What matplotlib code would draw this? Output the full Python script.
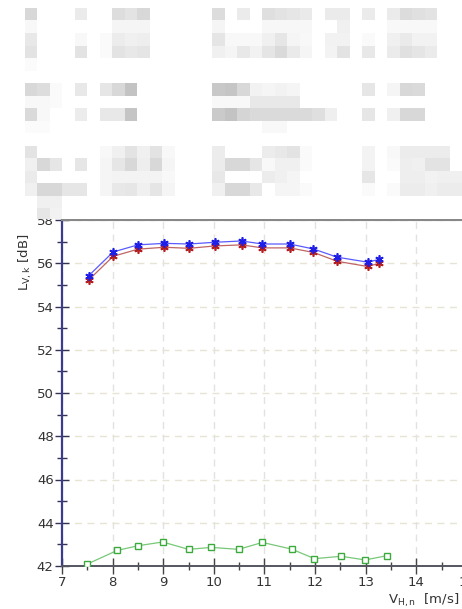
import numpy as np
import matplotlib
matplotlib.use("Agg")
from matplotlib import pyplot as plt

# wind speed bins [m/s] and levels [dB]
x_top = [7.53, 8.01, 8.5, 9.02, 9.51, 10.02, 10.55, 10.96, 11.5, 11.97, 12.44, 13.04, 13.27]
blue_vals = [55.43, 56.52, 56.85, 56.92, 56.89, 56.97, 57.03, 56.89, 56.89, 56.66, 56.28, 56.05, 56.18]
red_vals = [55.23, 56.32, 56.65, 56.74, 56.69, 56.80, 56.85, 56.71, 56.71, 56.50, 56.09, 55.85, 56.00]

x_bg = [7.5, 8.09, 8.51, 8.99, 9.5, 9.95, 10.49, 10.96, 11.54, 11.99, 12.52, 12.99, 13.43]
green_vals = [42.09, 42.72, 42.94, 43.11, 42.77, 42.86, 42.77, 43.09, 42.78, 42.34, 42.45, 42.28, 42.48]

x_ticks = [7, 8, 9, 10, 11, 12, 13, 14, 15]
y_ticks = [42, 44, 46, 48, 50, 52, 54, 56, 58]

# blurred header: row -> {column: grey level}
header = {
    0: {2: 0xD8, 6: 0xEB, 9: 0xDD, 10: 0xE3, 11: 0xD8, 17: 0xDC, 19: 0xEB, 21: 0xDF, 22: 0xE3,
        23: 0xE6, 24: 0xEA, 26: 0xEB, 27: 0xEB, 29: 0xEB, 31: 0xEB, 32: 0xDC, 33: 0xE0, 34: 0xE3},
    1: {2: 0xF8, 9: 0xF5, 10: 0xF5, 11: 0xF5, 17: 0xF5, 21: 0xF7, 22: 0xF7, 23: 0xF7, 24: 0xF7,
        27: 0xF0, 31: 0xF8, 32: 0xF8, 33: 0xF8, 34: 0xF8},
    2: {2: 0xE8, 6: 0xF8, 8: 0xFA, 9: 0xEC, 10: 0xF0, 11: 0xEE, 17: 0xE5, 18: 0xF8, 19: 0xF8,
        20: 0xF8, 21: 0xF0, 22: 0xE6, 23: 0xF5, 24: 0xF8, 26: 0xF2, 27: 0xF2, 29: 0xFA, 31: 0xF0,
        32: 0xEA, 33: 0xF2, 34: 0xF2},
    3: {2: 0xE3, 6: 0xE3, 8: 0xFA, 9: 0xE3, 10: 0xE8, 11: 0xE5, 17: 0xF0, 18: 0xF5, 19: 0xE8,
        20: 0xF2, 21: 0xE5, 22: 0xDA, 23: 0xEA, 24: 0xF5, 26: 0xF3, 27: 0xE3, 29: 0xE8, 31: 0xEB,
        32: 0xE0, 33: 0xE5, 34: 0xEB},
    4: {2: 0xFB},
    6: {2: 0xD8, 3: 0xDD, 4: 0xFA, 6: 0xE8, 8: 0xE6, 9: 0xD8, 10: 0xC3, 17: 0xC8, 18: 0xC5,
        19: 0xD8, 20: 0xF2, 21: 0xF5, 22: 0xF2, 23: 0xF5, 29: 0xE6, 31: 0xF5, 32: 0xD8, 33: 0xDA},
    7: {2: 0xF8, 3: 0xF8, 4: 0xFA, 17: 0xF8, 18: 0xF8, 19: 0xF8, 20: 0xE8, 21: 0xE8, 22: 0xE8,
        23: 0xE8},
    8: {2: 0xDA, 3: 0xF8, 6: 0xEC, 8: 0xE8, 9: 0xE8, 10: 0xC5, 17: 0xCA, 18: 0xC3, 19: 0xD5,
        20: 0xDA, 21: 0xDA, 22: 0xDA, 23: 0xDA, 24: 0xDA, 25: 0xDF, 26: 0xEF, 29: 0xE6, 31: 0xF0,
        32: 0xD8, 33: 0xD8},
    9: {2: 0xFB, 3: 0xFB, 21: 0xF8, 22: 0xF8},
    11: {2: 0xE3, 8: 0xF8, 9: 0xF0, 10: 0xE3, 11: 0xF0, 12: 0xE3, 13: 0xF8, 17: 0xEC, 21: 0xEC,
         22: 0xE8, 23: 0xE3, 24: 0xFA, 29: 0xF3, 31: 0xF8, 32: 0xEC, 33: 0xEC, 34: 0xEC, 35: 0xEC},
    12: {2: 0xF0, 3: 0xD8, 4: 0xE6, 6: 0xE6, 8: 0xF5, 9: 0xE6, 10: 0xD8, 11: 0xEE, 12: 0xD8,
         13: 0xF5, 17: 0xEC, 18: 0xD8, 19: 0xD8, 20: 0xE6, 21: 0xF8, 22: 0xF0, 23: 0xF0, 24: 0xFA,
         29: 0xF3, 31: 0xFA, 32: 0xEE, 33: 0xF0, 34: 0xE3, 35: 0xE3},
    13: {2: 0xEB, 8: 0xF5, 9: 0xF3, 10: 0xF3, 11: 0xF3, 12: 0xF3, 13: 0xF8, 17: 0xE8, 21: 0xEC,
         22: 0xF0, 23: 0xF5, 29: 0xE6, 32: 0xEE, 33: 0xEE, 34: 0xF2, 35: 0xF0, 36: 0xF0},
    14: {2: 0xF0, 3: 0xD8, 4: 0xD8, 5: 0xE6, 6: 0xE6, 8: 0xF5, 9: 0xE8, 10: 0xE6, 11: 0xF0,
         12: 0xE5, 13: 0xF5, 17: 0xF0, 18: 0xD8, 19: 0xD8, 20: 0xE8, 22: 0xF5, 23: 0xF5, 24: 0xFA,
         29: 0xFA, 31: 0xFA, 32: 0xEC, 33: 0xEC, 34: 0xF0, 35: 0xEC, 36: 0xEC},
    15: {3: 0xF0, 4: 0xF0},
    16: {3: 0xE6, 4: 0xF2},
}

plt.rcParams['font.family'] = ['DejaVu Sans']
plt.rcParams['mathtext.fontset'] = 'dejavusans'

W, H = 462, 609
fig = plt.figure(figsize=(W / 100, H / 100), dpi=100)

# chart axes, runs off the right edge like the original
left_px, top_px, bottom_px = 62, 220, 566
px_per_unit = 50.6
ax = fig.add_axes([left_px / W, (H - bottom_px) / H, 9 * px_per_unit / W, (bottom_px - top_px) / H])
ax.set_xlim(7, 16)
ax.set_ylim(42, 58)

ax.plot(x_top, blue_vals, color='#5a5aff', lw=0.9, marker=(6, 2, 0), ms=6,
        mec='#1e1ee6', mew=1.2, zorder=4)
ax.plot(x_top, red_vals, color='#c06464', lw=0.9, marker=(6, 2, 0), ms=6,
        mec='#b41e1e', mew=1.2, zorder=3)
ax.plot(x_bg, green_vals, color='#78c878', lw=0.9, marker='s', ms=4.5,
        mfc='white', mec='#3caa3c', mew=1.0, zorder=3)

ax.set_xticks(x_ticks)
ax.set_yticks(y_ticks)
ax.set_xticks(np.arange(7.5, 16, 1.0), minor=True)
ax.set_yticks(np.arange(43, 58, 2), minor=True)
ax.grid(True, which='major', axis='x', color='#e2e2e2', ls=(0, (5, 4)), lw=1.0)
ax.grid(True, which='major', axis='y', color='#e6e4d4', ls=(0, (5, 4)), lw=1.0)

ax.tick_params(axis='both', which='major', labelsize=9.5, labelcolor='#333333', direction='inout')
ax.tick_params(axis='x', which='major', length=12, width=1.0, color='#444444', pad=1)
ax.tick_params(axis='x', which='minor', length=6, width=1.0, color='#444444', direction='inout')
ax.tick_params(axis='y', which='major', length=10, width=1.0, color='#333355', pad=1)
ax.tick_params(axis='y', which='minor', length=7, width=1.0, color='#333355', direction='inout')

ax.spines['left'].set_color('#3c3c8c')
ax.spines['left'].set_linewidth(1.6)
ax.spines['bottom'].set_color('#555560')
ax.spines['bottom'].set_linewidth(1.4)
ax.spines['top'].set_color('#888888')
ax.spines['top'].set_linewidth(1.5)
ax.spines['right'].set_visible(False)

fig.text(25 / W, 1 - 262 / H, r'L$_{\mathrm{V,k}}$ [dB]', rotation=90, ha='center', va='center',
         fontsize=9.5, color='#333333')
fig.text(388 / W, 1 - 600 / H, r'V$_{\mathrm{H,n}}$  [m/s]', ha='left', va='center',
         fontsize=9.5, color='#333333')

# blurred header block painted over the top of the chart
cell = 12.5
y0 = 8.33
n_rows, n_cols = 17, 37
grid = np.full((n_rows, n_cols), 255.0)
for r, cols in header.items():
    for c, v in cols.items():
        grid[r, c] = v
hdr = fig.add_axes([0, (H - 219) / H, 1, 219 / H], zorder=10)
hdr.set_facecolor('white')
hdr.imshow(grid, cmap='gray', vmin=0, vmax=255, interpolation='nearest', aspect='auto',
           extent=(0, n_cols * cell, y0 + n_rows * cell, y0))
hdr.set_xlim(0, W)
hdr.set_ylim(219, 0)
hdr.axis('off')

fig.savefig('out.png', dpi=100)
